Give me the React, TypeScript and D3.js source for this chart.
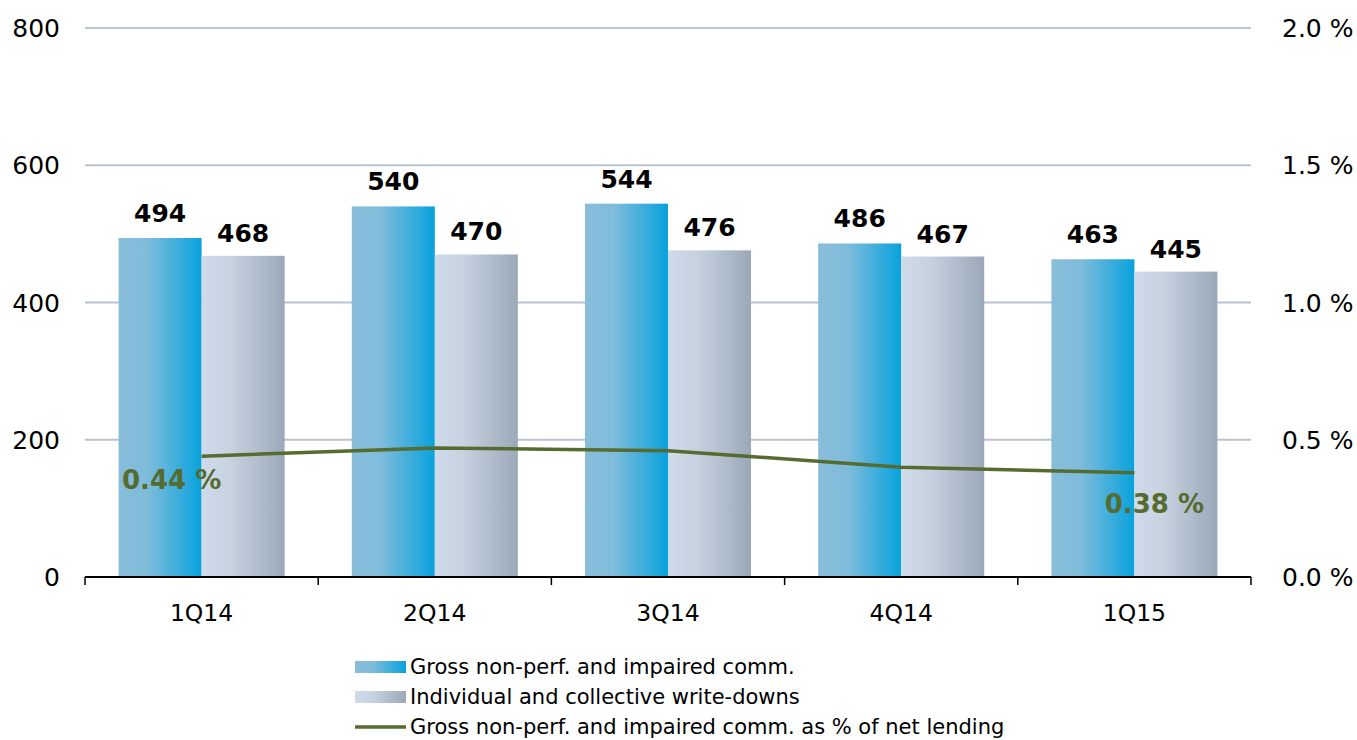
import React from 'react';
import * as d3 from 'd3';

const quarters = ['1Q14', '2Q14', '3Q14', '4Q14', '1Q15'];
const grossNonPerf = [494, 540, 544, 486, 463];
const writeDowns = [468, 470, 476, 467, 445];
const pctOfLending = [0.44, 0.47, 0.46, 0.40, 0.38];
const leftTicks = [0, 200, 400, 600, 800];
const rightTicks = [0, 0.5, 1.0, 1.5, 2.0];
const legendLabels = [
  'Gross non-perf. and impaired comm.',
  'Individual and collective write-downs',
  'Gross non-perf. and impaired comm. as % of net lending',
];

const W = 1357;
const H = 740;
const margin = { top: 28, right: 106, bottom: 163, left: 85 };
const FONT = 'Verdana, "DejaVu Sans", sans-serif';
const LINE_COLOR = '#556b2f';

export default function App() {
  const x0 = d3.scaleBand<string>()
    .domain(quarters)
    .range([margin.left, W - margin.right])
    .paddingInner(0.288)
    .paddingOuter(0.144);
  const step = x0.step();
  const x1 = d3.scaleBand<string>()
    .domain(['gross', 'wd'])
    .range([0, x0.bandwidth()]);

  const yL = d3.scaleLinear().domain([0, 800]).range([H - margin.bottom, margin.top]);
  const yR = d3.scaleLinear().domain([0, 2.0]).range([H - margin.bottom, margin.top]);

  const center = (q: string) => (x0(q) as number) + x0.bandwidth() / 2;
  const line = d3.line<number>()
    .x((_, i) => center(quarters[i]))
    .y(d => yR(d));

  const baseY = yL(0);
  const bounds = d3.range(quarters.length + 1).map(i => margin.left + i * step);

  // label offsets for the first and last line point
  const pctLabels = [
    { i: 0, dx: -30, dy: 33 },
    { i: quarters.length - 1, dx: 20, dy: 40 },
  ];

  return (
    <svg width={W} height={H} style={{ position: 'absolute', left: 0, top: 0 }} fontFamily={FONT}>
      <defs>
        <linearGradient id="gBlue" x1="0" x2="1" y1="0" y2="0">
          <stop offset="0" stopColor="#88bdd9" />
          <stop offset="0.35" stopColor="#7fbcdb" />
          <stop offset="1" stopColor="#08a2dd" />
        </linearGradient>
        <linearGradient id="gGrey" x1="0" x2="1" y1="0" y2="0">
          <stop offset="0" stopColor="#cfdbea" />
          <stop offset="0.35" stopColor="#c6d2e0" />
          <stop offset="1" stopColor="#9aa8b8" />
        </linearGradient>
      </defs>
      <rect width={W} height={H} fill="#fff" />

      {/* grid */}
      {leftTicks.slice(1).map(t => (
        <line key={t} x1={margin.left} x2={W - margin.right} y1={yL(t)} y2={yL(t)}
          stroke="#b9c3d1" strokeWidth={2} />
      ))}

      {/* bars */}
      {quarters.map((q, i) => (
        <g key={q} transform={`translate(${x0(q)},0)`}>
          <rect x={x1('gross')} y={yL(grossNonPerf[i])} width={x1.bandwidth()}
            height={baseY - yL(grossNonPerf[i])} fill="url(#gBlue)" />
          <rect x={x1('wd')} y={yL(writeDowns[i])} width={x1.bandwidth()}
            height={baseY - yL(writeDowns[i])} fill="url(#gGrey)" />
          <text x={(x1('gross') as number) + x1.bandwidth() / 2} y={yL(grossNonPerf[i]) - 16}
            textAnchor="middle" fontSize={25} fontWeight="bold" fill="#000">{grossNonPerf[i]}</text>
          <text x={(x1('wd') as number) + x1.bandwidth() / 2} y={yL(writeDowns[i]) - 14}
            textAnchor="middle" fontSize={25} fontWeight="bold" fill="#000">{writeDowns[i]}</text>
        </g>
      ))}

      {/* x axis */}
      <line x1={margin.left} x2={W - margin.right} y1={baseY} y2={baseY} stroke="#000" strokeWidth={2} />
      {bounds.map((b, i) => (
        <line key={i} x1={b} x2={b} y1={baseY} y2={baseY + 8} stroke="#000" strokeWidth={1.5} />
      ))}
      {quarters.map(q => (
        <text key={q} x={center(q)} y={baseY + 44} textAnchor="middle" fontSize={23.5} fill="#000">{q}</text>
      ))}

      {/* y axes */}
      {leftTicks.map(t => (
        <text key={t} x={60} y={yL(t) + 9} textAnchor="end" fontSize={25} fill="#000">{t}</text>
      ))}
      {rightTicks.map(t => (
        <text key={t} x={1282} y={yR(t) + 9} textAnchor="start" fontSize={25} fill="#000">{`${t.toFixed(1)} %`}</text>
      ))}

      {/* line series */}
      <path d={line(pctOfLending) as string} fill="none" stroke={LINE_COLOR} strokeWidth={3.5} />
      {pctLabels.map(l => (
        <text key={l.i} x={center(quarters[l.i]) + l.dx} y={yR(pctOfLending[l.i]) + l.dy}
          textAnchor="middle" fontSize={26} fontWeight="bold" fill={LINE_COLOR}>
          {`${pctOfLending[l.i].toFixed(2)} %`}
        </text>
      ))}

      {/* legend */}
      <g transform="translate(355,667)">
        <rect x={0} y={-6} width={51} height={12} fill="url(#gBlue)" />
        <rect x={0} y={24} width={51} height={12} fill="url(#gGrey)" />
        <line x1={0} x2={51} y1={60} y2={60} stroke={LINE_COLOR} strokeWidth={3.5} />
        {legendLabels.map((s, i) => (
          <text key={s} x={55} y={i * 30 + 7} fontSize={21} fill="#000">{s}</text>
        ))}
      </g>
    </svg>
  );
}
